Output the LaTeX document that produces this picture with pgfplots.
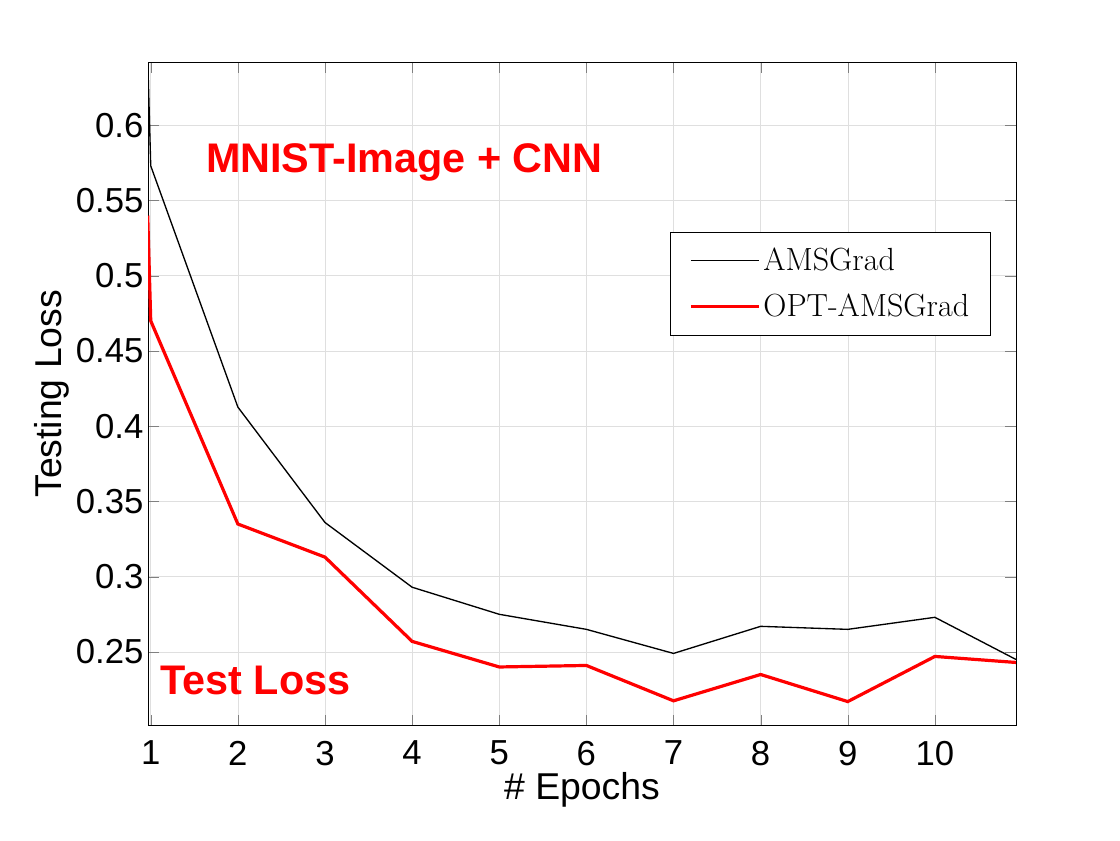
\documentclass[border=0pt]{standalone}
\usepackage{pgfplots}
\pgfplotsset{compat=1.18}
\usepackage{fontspec}
\setmainfont{Liberation Sans}
\newfontfamily\lmfont{Latin Modern Roman}
\begin{document}
\begin{tikzpicture}
\path (-111pt,-86.25pt) rectangle (728.25pt,543.75pt);
\begin{axis}[at={(0,0)},anchor=south west,scale only axis,width=650.25pt,height=497.25pt,
xmin=0.97,xmax=10.93,ymin=0.201,ymax=0.642,
xtick={1,...,10},ytick={0.25,0.3,...,0.6},
yticklabels={0.25,0.3,0.35,0.4,0.45,0.5,0.55,0.6},
grid=major,grid style={gray!25},tick align=inside,
major tick length=8pt,
tick label style={font=\fontsize{26}{30}\selectfont},
xticklabel style={yshift=-8pt},
/pgf/number format/assume math mode=true,
xlabel={\# Epochs},ylabel={Testing Loss},
label style={font=\fontsize{28}{33}\selectfont},
ylabel style={yshift=-2pt},xlabel style={yshift=2pt},
axis line style={black},
legend style={at={(0.971,0.744)},anchor=north east,font=\lmfont\fontsize{24}{28}\selectfont,
 inner xsep=14pt,inner ysep=10pt,row sep=12pt,cells={anchor=west}},
legend image code/.code={\draw[#1] (0cm,0cm) -- (1.8cm,0cm);},
clip=true]
\addplot[black,line width=1pt] coordinates {(0.965,0.645)(1,0.573)(2,0.4127)(3,0.336)(4,0.293)(5,0.275)(6,0.265)(7,0.249)(8,0.267)(9,0.265)(10,0.273)(10.93,0.245)};
\addlegendentry{AMSGrad}
\addplot[red,line width=2.4pt] coordinates {(0.965,0.540)(1,0.470)(2,0.335)(3,0.313)(4,0.257)(5,0.240)(6,0.241)(7,0.2175)(8,0.235)(9,0.217)(10,0.247)(10.93,0.243)};
\addlegendentry{OPT-AMSGrad}
\node[red,font=\bfseries\fontsize{31}{36}\selectfont] at (axis cs:3.91,0.575) {MNIST-Image + CNN};
\node[red,font=\bfseries\fontsize{31}{36}\selectfont] at (axis cs:2.2,0.231) {Test Loss};
\end{axis}
\end{tikzpicture}
\end{document}
